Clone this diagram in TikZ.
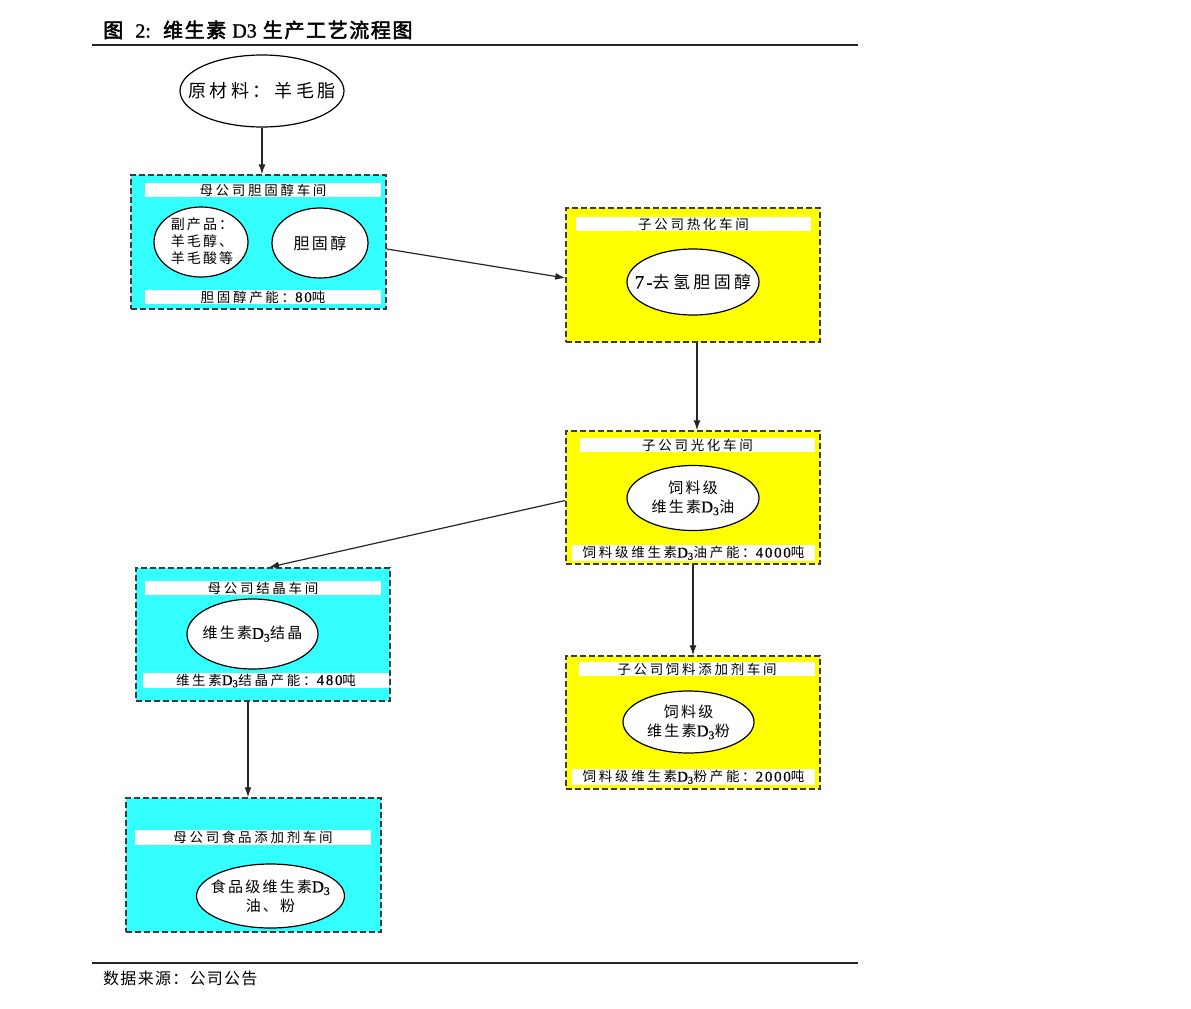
\documentclass[tikz,border=0pt]{standalone}
\usepackage{fontspec}
\setmainfont{Noto Sans CJK SC}
\newfontfamily\cja[LetterSpace=15]{Noto Sans CJK SC}
\newfontfamily\cjb[LetterSpace=20]{Noto Sans CJK SC}
\newfontfamily\cjc[LetterSpace=20]{Noto Sans CJK SC}
\newfontfamily\srcf[LetterSpace=8]{Noto Sans CJK SC}
\newfontfamily\titlef[FakeBold=2.5,LetterSpace=8]{Noto Sans CJK SC}
\newfontfamily\latf[LetterSpace=12,Scale=1.1,FakeBold=0.6]{Liberation Serif}
\newfontfamily\latb[FakeBold=1.5]{Liberation Serif}
\newcommand\la[1]{{\latf #1}}
\newcommand\dd{{\latf D\textsubscript{3}}}
\usetikzlibrary{shapes.geometric,arrows.meta}
\definecolor{cybox}{RGB}{51,255,255}
\definecolor{yebox}{RGB}{255,255,0}
\definecolor{bord}{RGB}{60,60,60}
\tikzset{
  wsbox/.style={draw=bord,line width=1.5pt,dash pattern=on 6pt off 3pt,minimum width=#1,inner sep=0pt,minimum height=133pt},
  cybx/.style={wsbox=254pt,fill=cybox},
  yebx/.style={wsbox=254pt,fill=yebox},
  bar/.style={fill=white,inner sep=0pt,minimum height=14pt,minimum width=#1,font=\cjc\fontsize{13.5}{14}\selectfont},
  ell/.style={ellipse,draw=black,line width=1.2pt,fill=white,inner sep=0pt},
  etxt/.style={inner sep=0pt,align=center,font=\cja\fontsize{15}{19}\selectfont},
  arr/.style={-{Latex[length=10pt,width=7pt]},line width=1.2pt,draw=black!85},
}
\begin{document}
\begin{tikzpicture}[x=1pt,y=-1pt]
\useasboundingbox (0,0) rectangle (1191,1009);
% title and rules
\node[anchor=west,inner sep=0pt,font=\titlef\fontsize{20}{22}\selectfont] (title) at (103,30) {图\ \ {\latb\fontsize{20}{22}\selectfont 2:}\ \ 维生素\ {\latb\fontsize{20}{22}\selectfont D3}\ 生产工艺流程图};
\draw[line width=1.6pt,black!85] (92,45) coordinate (t1) -- (858,45) coordinate (t2);
\draw[line width=1.6pt,black!85] (92,963) coordinate (f1) -- (858,963) coordinate (f2);
\node[anchor=west,inner sep=0pt,font=\srcf\fontsize{16}{18}\selectfont] (src) at (103,978) {数据来源：公司公告};

% raw material
\node[ell,minimum width=164pt,minimum height=72pt] (raw) at (262,91) {};
\node[etxt,font=\cjb\fontsize{18}{19}\selectfont] (rawt) at (raw.center) {原材料：羊毛脂};

% box 1
\node[cybx,minimum width=255pt,minimum height=134pt] (b1) at (258.5,242) {};
\node[bar=236pt] (b1h) at (263,190) {母公司胆固醇车间};
\node[bar=236pt] (b1f) at (263,297) {胆固醇产能：\la{80}吨};
\node[ell,minimum width=94pt,minimum height=70pt] (e1a) at (201,242) {};
\node[etxt,align=left,font=\cja\fontsize{14}{17}\selectfont] (e1at) at (202,241) {副产品：\\羊毛醇、\\羊毛酸等};
\node[ell,minimum width=96pt,minimum height=70pt] (e1b) at (320,243) {};
\node[etxt,font=\cja\fontsize{16}{19}\selectfont] (e1bt) at (e1b.center) {胆固醇};

% box 2
\node[yebx,minimum height=134pt] (b2) at (693,275) {};
\node[bar=235pt] (b2h) at (693.5,224) {子公司热化车间};
\node[ell,minimum width=132pt,minimum height=66pt] (e2) at (693,282) {};
\node[etxt,font=\cjb\fontsize{17}{19}\selectfont] (e2t) at (e2.center) {{\latf\fontsize{17}{19}\selectfont 7-}去氢胆固醇};

% box 3
\node[yebx] (b3) at (693,497.5) {};
\node[bar=235pt] (b3h) at (697.5,445) {子公司光化车间};
\node[bar=243pt,minimum height=16pt] (b3f) at (693.5,553) {饲料级维生素\dd 油产能：\la{4000}吨};
\node[ell,minimum width=132pt,minimum height=65pt] (e3) at (693,498) {};
\node[etxt] (e3t) at (e3.center) {饲料级\\维生素\dd 油};

% box 4
\node[cybx] (b4) at (263,634.5) {};
\node[bar=236pt] (b4h) at (263,588) {母公司结晶车间};
\node[bar=246pt,minimum height=15pt] (b4f) at (266,680.5) {维生素\dd 结晶产能：\la{480}吨};
\node[ell,minimum width=131pt,minimum height=70pt] (e4) at (252.5,634) {};
\node[etxt] (e4t) at (e4.center) {维生素\dd 结晶};

% box 5
\node[yebx] (b5) at (693,722.5) {};
\node[bar=236pt] (b5h) at (697,669) {子公司饲料添加剂车间};
\node[bar=243pt,minimum height=16pt] (b5f) at (693.5,777) {饲料级维生素\dd 粉产能：\la{2000}吨};
\node[ell,minimum width=131pt,minimum height=62pt] (e5) at (688.5,722) {};
\node[etxt] (e5t) at (e5.center) {饲料级\\维生素\dd 粉};

% box 6
\node[cybx,minimum width=255pt,minimum height=134pt] (b6) at (253.5,865) {};
\node[bar=236pt,minimum height=15pt] (b6h) at (253,837.5) {母公司食品添加剂车间};
\node[ell,minimum width=148pt,minimum height=64pt] (e6) at (270.5,896) {};
\node[etxt] (e6t) at (e6.center) {食品级维生素\dd\\油、粉};

% connectors
\draw[arr] (raw.south) -- (raw.south |- b1.north);
\draw[arr] ([yshift=-7pt]b1.east) -- ([yshift=-3pt]b2.west);
\draw[arr] ([xshift=4pt]b2.south) -- ([xshift=4pt]b3.north);
\draw[arr] ([yshift=-3pt]b3.west) -- ([xshift=6pt]b4.north);
\draw[arr] (b3.south) -- (b5.north);
\draw[arr] ([xshift=-15pt]b4.south) -- ([xshift=-15pt]b4.south |- b6.north);
\end{tikzpicture}
\end{document}
